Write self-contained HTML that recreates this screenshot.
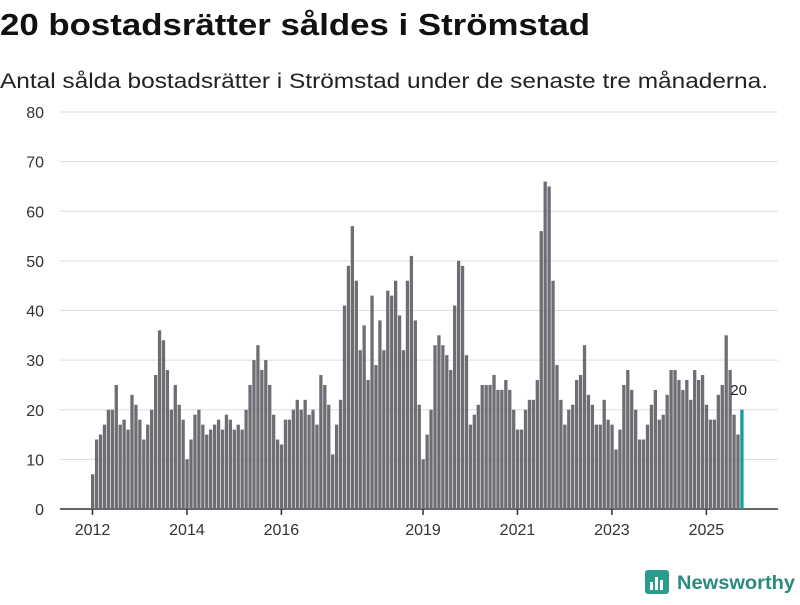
<!DOCTYPE html>
<html><head><meta charset="utf-8"><style>
body{margin:0;background:#fff;width:800px;height:600px;overflow:hidden;font-family:"Liberation Sans",sans-serif;}
</style></head><body>
<svg width="800" height="600" xmlns="http://www.w3.org/2000/svg">
<text x="0" y="35" font-size="31" font-weight="bold" fill="#111" textLength="590" lengthAdjust="spacingAndGlyphs">20 bostadsrätter såldes i Strömstad</text>
<text x="0" y="88" font-size="21" fill="#222" textLength="768" lengthAdjust="spacingAndGlyphs">Antal sålda bostadsrätter i Strömstad under de senaste tre månaderna.</text>
<g id="grid"></g><g id="bars"></g><g id="xaxis"></g>
<g>
<rect x="645" y="570" width="24" height="24" rx="3" fill="#2a9d8f"/>
<rect x="650" y="582" width="3" height="8" fill="#fff"/><rect x="655" y="577" width="3" height="13" fill="#fff"/><rect x="660" y="580" width="3" height="10" fill="#fff"/>
<text x="677" y="589" font-size="19" font-weight="bold" fill="#2a8a80" textLength="118" lengthAdjust="spacingAndGlyphs">Newsworthy</text>
</g>
</svg>
<script>
const values=[7,14,15,17,20,20,25,17,18,16,23,21,
18,14,17,20,27,36,34,28,20,25,21,18,
10,14,19,20,17,15,16,17,18,16,19,18,
16,17,16,20,25,30,33,28,30,25,19,14,
13,18,18,20,22,20,22,19,20,17,27,25,
21,11,17,22,41,49,57,46,32,37,26,43,
29,38,32,44,43,46,39,32,46,51,38,21,
10,15,20,33,35,33,31,28,41,50,49,31,
17,19,21,25,25,25,27,24,24,26,24,20,
16,16,20,22,22,26,56,66,65,46,29,22,
17,20,21,26,27,33,23,21,17,17,22,18,
17,12,16,25,28,24,20,14,14,17,21,24,
18,19,23,28,28,26,24,26,22,28,26,27,
21,18,18,23,25,35,28,19,15,20];
const yTicks=[0,10,20,30,40,50,60,70,80];
const xTickYears=[2012,2014,2016,2019,2021,2023,2025];
const startYear=2012;
const NS="http://www.w3.org/2000/svg";
const y=v=>509-v*(397/80);
const x=i=>91+i*3.935;
function mk(t,a,p){const e=document.createElementNS(NS,t);for(const k in a)e.setAttribute(k,a[k]);p.appendChild(e);return e;}
const grid=document.getElementById('grid');
yTicks.forEach(v=>{
 const l=mk('line',{x1:60,x2:778,y1:y(v),y2:y(v),stroke:v===0?'#333':'#ddd','stroke-width':v===0?1.5:1},grid);
 
 
 const t=mk('text',{x:44,y:y(v)+6,'font-size':16,fill:'#333','text-anchor':'end'},grid);
 t.textContent=v;
 
 
});
const bars=document.getElementById('bars');
values.forEach((v,i)=>{
 const last=i===values.length-1;
 const r=mk('rect',{x:x(i),y:y(v),width:3.3,height:y(0)-y(v),fill:last?'#139e9a':'#6e6d73'},bars);
 
 
 if(last){const t=mk('text',{x:x(i)-10,y:y(v)-15,'font-size':15,fill:'#222'},bars);t.textContent=v;
 
 }
});
const xa=document.getElementById('xaxis');
xTickYears.forEach(yr=>{
 const px=x((yr-startYear)*12)+1.5;
 const l=mk('line',{x1:px,x2:px,y1:509,y2:515,stroke:'#333','stroke-width':1.5},xa);
 
 
 const t=mk('text',{x:px,y:535,'font-size':16,fill:'#333','text-anchor':'middle'},xa);
 t.textContent=yr;
 
 
});
</script>
</body></html>
